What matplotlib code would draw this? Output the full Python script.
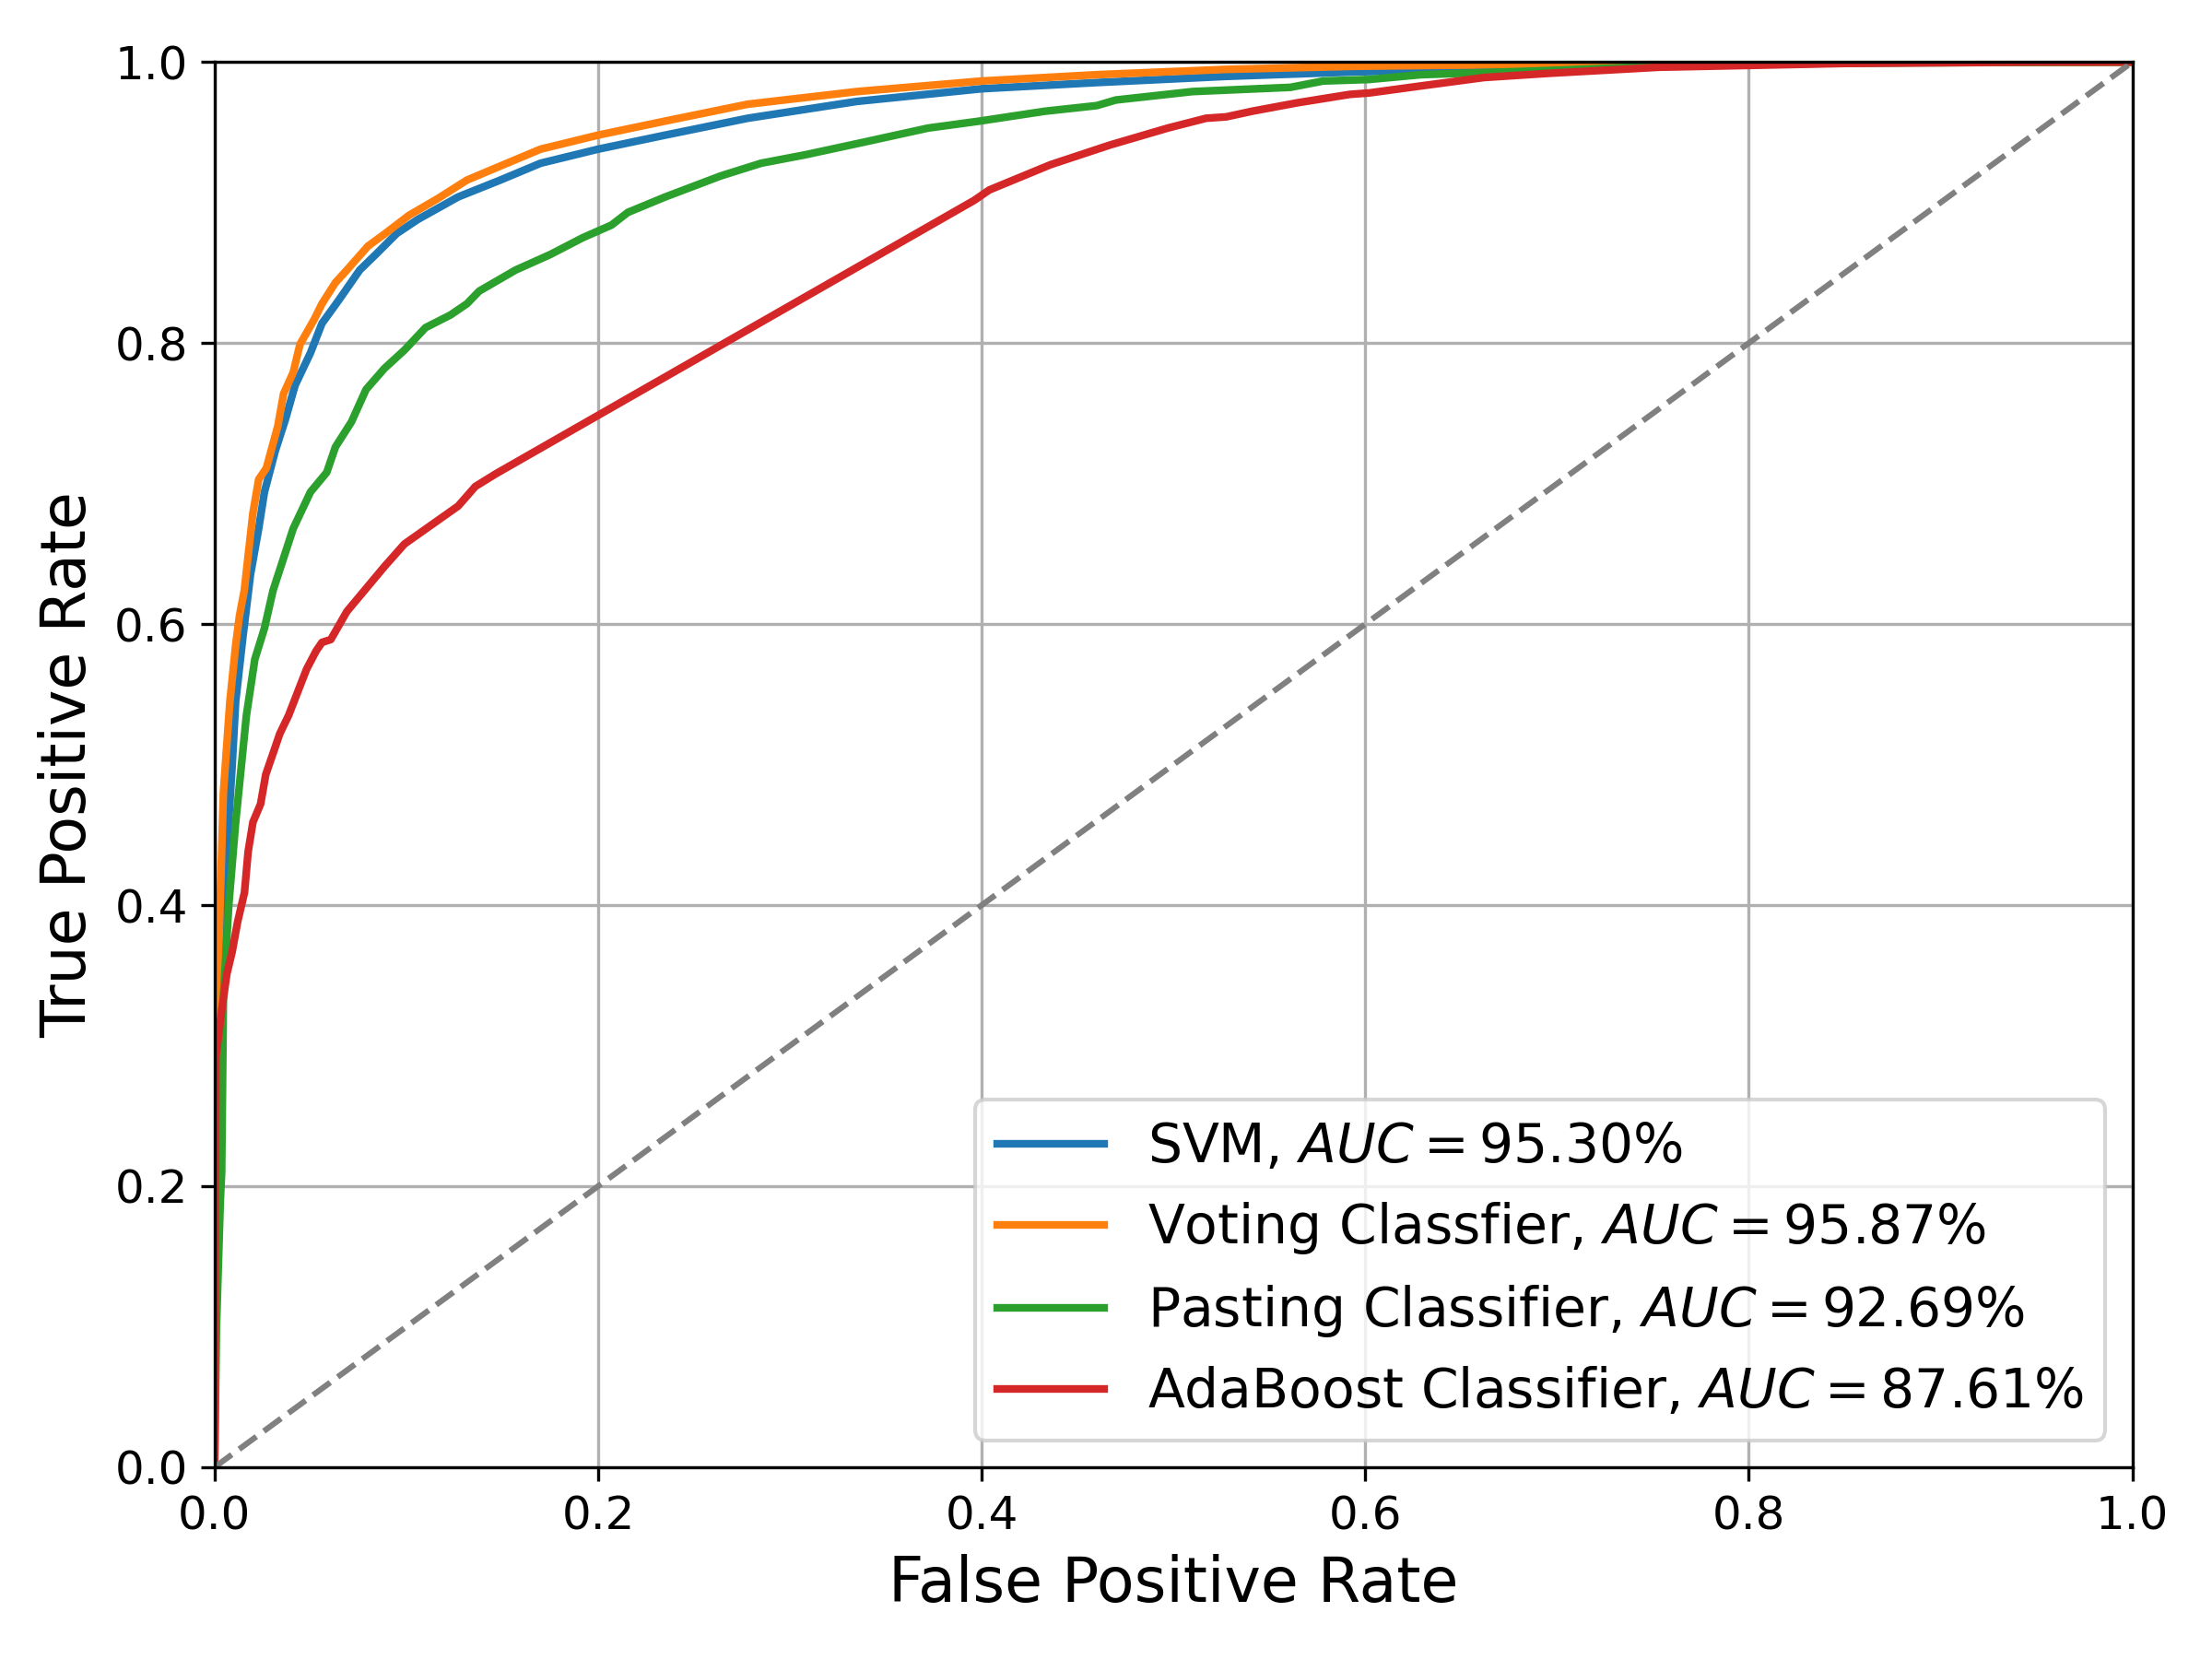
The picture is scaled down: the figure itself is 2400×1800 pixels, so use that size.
import matplotlib
matplotlib.use('Agg')
import matplotlib.pyplot as plt
import numpy as np

# ROC points
svm_fpr = [0, 0.0005, 0.002, 0.0046, 0.0092, 0.011, 0.0147, 0.0187, 0.023, 0.026,
           0.0316, 0.037, 0.042, 0.050, 0.056, 0.065, 0.0757, 0.084, 0.095, 0.106,
           0.127, 0.149, 0.170, 0.200, 0.235, 0.278, 0.335, 0.40, 0.46, 0.5275,
           0.595, 0.662, 0.753, 0.85, 0.92, 1.0]
svm_tpr = [0, 0.2, 0.33, 0.40, 0.50, 0.545, 0.59, 0.635, 0.668, 0.694,
           0.723, 0.746, 0.770, 0.793, 0.814, 0.831, 0.852, 0.863, 0.878, 0.888,
           0.904, 0.916, 0.928, 0.938, 0.948, 0.960, 0.972, 0.981, 0.9854, 0.9898,
           0.993, 0.995, 0.998, 0.9993, 1.0, 1.0]

vot_fpr = [0, 0.0005, 0.001, 0.002, 0.0046, 0.008, 0.011, 0.013, 0.0155, 0.020,
           0.023, 0.027, 0.033, 0.036, 0.041, 0.0445, 0.052, 0.056, 0.063, 0.069,
           0.080, 0.089, 0.1015, 0.1166, 0.1316, 0.149, 0.170, 0.200, 0.235, 0.278,
           0.335, 0.40, 0.46, 0.5275, 0.595, 0.662, 0.753, 0.85, 1.0]
vot_tpr = [0, 0.2, 0.29, 0.36, 0.48, 0.545, 0.585, 0.606, 0.624, 0.679,
           0.703, 0.711, 0.741, 0.764, 0.779, 0.799, 0.817, 0.828, 0.843, 0.852,
           0.869, 0.878, 0.891, 0.903, 0.916, 0.926, 0.938, 0.948, 0.958, 0.970,
           0.979, 0.9865, 0.991, 0.9948, 0.997, 0.998, 0.999, 0.9997, 1.0]

pas_fpr = [0, 0.001, 0.003, 0.0037, 0.0046, 0.0074, 0.011, 0.0166, 0.021, 0.026,
           0.0305, 0.041, 0.050, 0.0585, 0.063, 0.0714, 0.079, 0.0886, 0.099, 0.110,
           0.123, 0.1316, 0.138, 0.157, 0.175, 0.192, 0.207, 0.2155, 0.235, 0.264,
           0.285, 0.308, 0.3386, 0.372, 0.399, 0.433, 0.46, 0.47, 0.51, 0.561,
           0.578, 0.602, 0.629, 0.696, 0.753, 0.85, 1.0]
pas_tpr = [0, 0.1, 0.19, 0.21, 0.334, 0.40, 0.459, 0.535, 0.575, 0.597,
           0.624, 0.668, 0.694, 0.708, 0.726, 0.744, 0.767, 0.782, 0.795, 0.811,
           0.820, 0.828, 0.837, 0.852, 0.863, 0.875, 0.884, 0.893, 0.904, 0.919,
           0.928, 0.934, 0.943, 0.953, 0.958, 0.965, 0.969, 0.973, 0.979, 0.982,
           0.9865, 0.9876, 0.991, 0.994, 0.997, 0.9993, 1.0]

ada_fpr = [0, 0.0007, 0.0037, 0.0064, 0.0092, 0.012, 0.0156, 0.0175, 0.020, 0.024,
           0.0267, 0.031, 0.034, 0.0386, 0.044, 0.048, 0.053, 0.056, 0.0606, 0.069,
           0.0886, 0.099, 0.127, 0.136, 0.1467, 0.396, 0.404, 0.436, 0.467, 0.477,
           0.497, 0.517, 0.5275, 0.541, 0.5646, 0.592, 0.602, 0.629, 0.662, 0.696,
           0.753, 0.85, 0.95, 1.0]
ada_tpr = [0, 0.292, 0.325, 0.351, 0.367, 0.388, 0.409, 0.438, 0.459, 0.472,
           0.493, 0.510, 0.522, 0.535, 0.554, 0.568, 0.581, 0.587, 0.589, 0.609,
           0.641, 0.657, 0.684, 0.698, 0.707, 0.9015, 0.909, 0.927, 0.941, 0.945,
           0.953, 0.960, 0.961, 0.965, 0.971, 0.977, 0.978, 0.983, 0.989, 0.992,
           0.9963, 0.999, 1.0, 1.0]

labels = [r'SVM, $AUC = 95.30\%$',
          r'Voting Classfier, $AUC = 95.87\%$',
          r'Pasting Classifier, $AUC = 92.69\%$',
          r'AdaBoost Classifier, $AUC = 87.61\%$']

fig, ax = plt.subplots(figsize=(8, 6), dpi=300)
fig.subplots_adjust(left=0.097, right=0.964, top=0.9626, bottom=0.1156)

curves = [(svm_fpr, svm_tpr), (vot_fpr, vot_tpr), (pas_fpr, pas_tpr), (ada_fpr, ada_tpr)]
for (f, t), lab in zip(curves, labels):
    ax.plot(f, t, lw=2, label=lab)

ax.plot([0, 1], [0, 1], linestyle='--', color='gray', lw=1.5)

ax.set_xlim(0, 1)
ax.set_ylim(0, 1)
ax.grid(True)
ax.tick_params(labelsize=12)
ax.set_xlabel('False Positive Rate', fontsize=16)
ax.set_ylabel('True Positive Rate', fontsize=16)
ax.legend(loc='lower right', fontsize=14)

fig.savefig('out.png', dpi=300)
